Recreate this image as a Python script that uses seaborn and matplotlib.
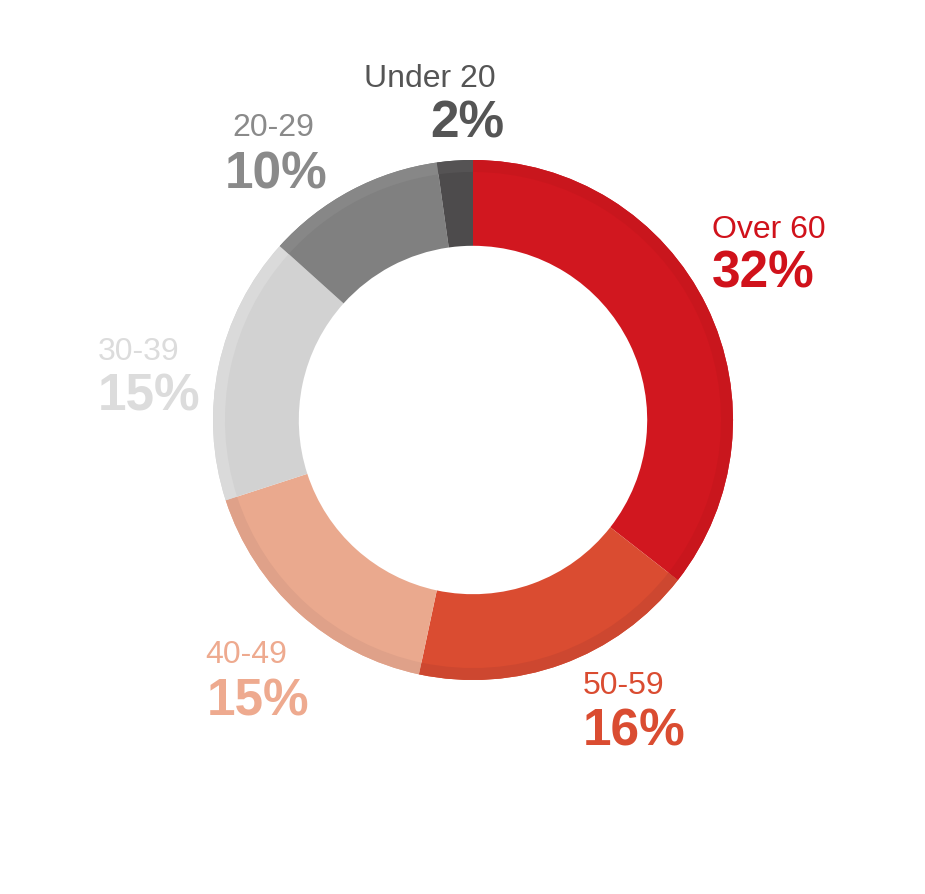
import seaborn as sns
import matplotlib.pyplot as plt

# Age groups, clockwise from 12 o'clock
groups = ["Over 60", "50-59", "40-49", "30-39", "20-29", "Under 20"]
shares = [32, 16, 15, 15, 10, 2]
pct_labels = ["32%", "16%", "15%", "15%", "10%", "2%"]

main_colors = ["#d1171f", "#da4c31", "#eaa98e", "#d2d2d2", "#808080", "#4d4b4c"]
band_colors = ["#c9161d", "#cd4730", "#dfa189", "#dadada", "#878787", "#555354"]
text_colors = ["#d0121b", "#da4c31", "#eeaa8f", "#dcdcdc", "#8a8a8a", "#555555"]

sns.set_theme(style="white")
plt.rcParams["font.family"] = ["Liberation Sans", "DejaVu Sans"]

W, H = 925, 894
fig = plt.figure(figsize=(W / 100, H / 100), dpi=100)

cx, cy, r = 473, 420, 260
ax = fig.add_axes([(cx - r) / W, (H - cy - r) / H, 2 * r / W, 2 * r / H])

pal = sns.color_palette(main_colors)
ax.pie(shares, colors=pal, startangle=90, counterclock=False, radius=1.0,
       wedgeprops=dict(width=0.33, linewidth=0))
# thin outer band with a slightly different tone
ax.pie(shares, colors=sns.color_palette(band_colors), startangle=90, counterclock=False,
       radius=1.0, wedgeprops=dict(width=0.046, linewidth=0))
ax.set_xlim(-1, 1)
ax.set_ylim(-1, 1)
ax.set_aspect("equal")
ax.axis("off")

# label positions (left x, baseline of name, baseline of percent) in pixels
label_pos = {
    "Over 60": (712, 238, 288),
    "50-59": (583, 694, 746),
    "40-49": (205, 663, 715),
    "30-39": (98, 360, 410),
    "20-29": (232, 136, 188),
    "Under 20": (364, 87, 137),
}
pct_dx = {"Under 20": 66, "20-29": -7, "40-49": 2}

for g, p, c in zip(groups, pct_labels, text_colors):
    x, y1, y2 = label_pos[g]
    fig.text(x / W, 1 - y1 / H, g, color=c, fontsize=23, ha="left", va="baseline")
    fig.text((x + pct_dx.get(g, 0)) / W, 1 - y2 / H, p, color=c, fontsize=37,
             fontweight="bold", ha="left", va="baseline")

fig.savefig("out.png", dpi=100, facecolor="white")
